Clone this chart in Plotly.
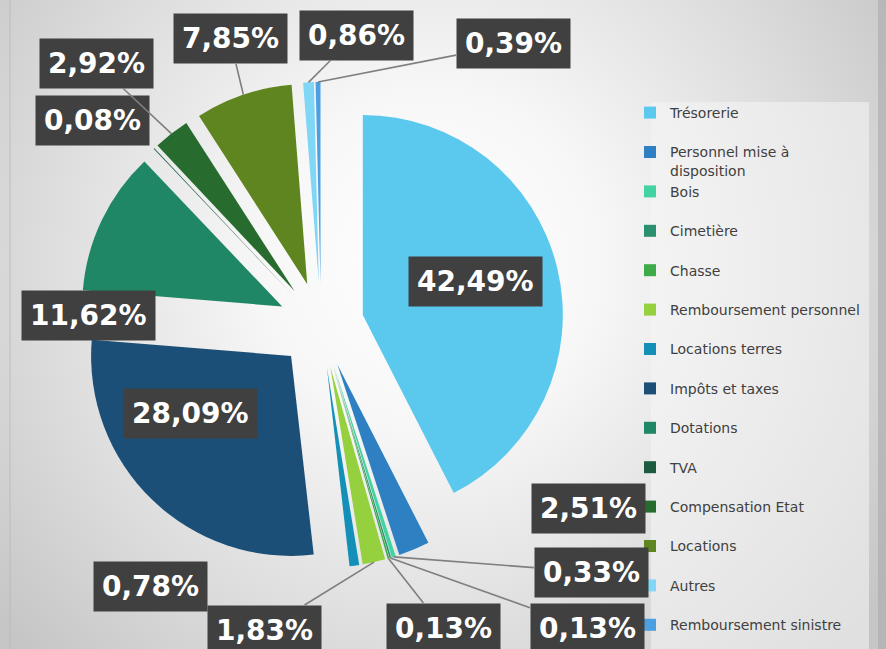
import base64
import math
import plotly.graph_objects as go

# ---------------- data ----------------
categories = ["Trésorerie", "Personnel mise à disposition", "Bois", "Cimetière", "Chasse",
              "Remboursement personnel", "Locations terres", "Impôts et taxes", "Dotations",
              "TVA", "Compensation Etat", "Locations", "Autres", "Remboursement sinistre"]
values = [42.49, 2.51, 0.33, 0.13, 0.13, 1.83, 0.78, 28.09, 11.62, 0.08, 2.92, 7.85, 0.86, 0.39]
value_labels = ["42,49%", "2,51%", "0,33%", "0,13%", "0,13%", "1,83%", "0,78%",
                "28,09%", "11,62%", "0,08%", "2,92%", "7,85%", "0,86%", "0,39%"]

# ---------------- style ----------------
colors = ["#5BC9EE", "#2E80C3", "#43D3A2", "#2A9070", "#3EAA4A", "#95D03F", "#1490B8",
          "#1B4F77", "#1F8766", "#1D5B40", "#286B2F", "#5E851F", "#7FD6F5", "#4C9FE0"]
legend_names = ["Trésorerie<br>\u00a0", "Personnel mise à<br>disposition", "Bois<br>\u00a0",
                "Cimetière<br>\u00a0", "Chasse<br>\u00a0", "Remboursement personnel<br>\u00a0",
                "Locations terres<br>\u00a0", "Impôts et taxes<br>\u00a0", "Dotations<br>\u00a0",
                "TVA<br>\u00a0", "Compensation Etat<br>\u00a0", "Locations<br>\u00a0",
                "Autres<br>\u00a0", "Remboursement sinistre"]
# label box centres (pixels) and whether a leader line is drawn
label_pos = [(475, 281), (588, 508), (591, 572), (587, 628), (443, 628), (264, 630),
             (150, 586), (190, 413), (88, 315), (92, 121), (96, 63), (230, 39),
             (356, 35), (513, 44)]
leader = [False, False, True, True, True, True, False, False, False, False, True, True,
          True, True]

W, H = 886, 649
PULL = 0.215
dom_x = [0.088, 0.6366]
dom_y = [1 - 568 / H, 1 - 82 / H]

# geometry as plotly computes it (margins are zero)
box_w = W * (dom_x[1] - dom_x[0])
box_h = H * (dom_y[1] - dom_y[0])
R = min(box_w, box_h) / 2 / (1 + PULL)
cx = W * (dom_x[0] + dom_x[1]) / 2
cy = H * (1 - dom_y[0]) - box_h / 2

total = sum(values)
cum = 0.0
anchors = []
for v in values:
    mid = (cum + v / 2) / total * 2 * math.pi
    cum += v
    dist = R * (1 + PULL)
    anchors.append((cx + dist * math.sin(mid), cy - dist * math.cos(mid)))

fig = go.Figure(go.Pie(
    labels=legend_names,
    values=values,
    marker=dict(colors=colors, line=dict(width=0)),
    pull=PULL,
    sort=False,
    direction="clockwise",
    rotation=0,
    textinfo="none",
    hoverinfo="label+percent",
    domain=dict(x=dom_x, y=dom_y),
))

LABEL_FONT = dict(family="DejaVu Sans", size=28, color="white", weight="bold")
PAD = 8
annotations = []
for i, txt in enumerate(value_labels):
    lx, ly = label_pos[i]
    if leader[i]:
        apx, apy = anchors[i]
        annotations.append(dict(
            x=apx / W, y=1 - apy / H, xref="paper", yref="paper",
            ax=lx - apx, ay=ly - apy, axref="pixel", ayref="pixel",
            xanchor="center", yanchor="middle",
            text=txt, showarrow=True, arrowhead=0, arrowwidth=1.6, arrowcolor="#7F7F7F",
            standoff=0, font=LABEL_FONT, bgcolor="#404040", borderpad=PAD))
    else:
        annotations.append(dict(
            x=lx / W, y=1 - ly / H, xref="paper", yref="paper", text=txt, showarrow=False,
            xanchor="center", yanchor="middle",
            font=LABEL_FONT, bgcolor="#404040", borderpad=PAD))

svg = (
    "<svg xmlns='http://www.w3.org/2000/svg' width='886' height='649'>"
    "<defs><radialGradient id='g' gradientUnits='userSpaceOnUse' cx='430' cy='260' r='560'>"
    "<stop offset='0' stop-color='#ffffff'/>"
    "<stop offset='0.3' stop-color='#f7f7f7'/>"
    "<stop offset='0.7' stop-color='#dcdcdc'/>"
    "<stop offset='1' stop-color='#c6c6c6'/>"
    "</radialGradient></defs>"
    "<rect width='886' height='649' fill='url(#g)'/></svg>"
)
bg_uri = "data:image/svg+xml;base64," + base64.b64encode(svg.encode()).decode()

fig.update_layout(
    width=W, height=H,
    margin=dict(l=0, r=0, t=0, b=0, autoexpand=False),
    paper_bgcolor="#e4e4e4",
    plot_bgcolor="rgba(0,0,0,0)",
    images=[dict(source=bg_uri, xref="paper", yref="paper", x=0, y=1, sizex=1, sizey=1,
                 sizing="stretch", xanchor="left", yanchor="top", layer="below")],
    shapes=[
        dict(type="rect", xref="paper", yref="paper", x0=651 / W, x1=869 / W,
             y0=1 - 649 / H, y1=1 - 102 / H, fillcolor="rgba(246,246,246,0.55)",
             line=dict(width=0), layer="below"),
        dict(type="line", xref="paper", yref="paper", x0=10 / W, x1=10 / W, y0=0, y1=1,
             line=dict(color="rgba(180,180,180,0.7)", width=1), layer="below"),
        dict(type="rect", xref="paper", yref="paper", x0=878 / W, x1=1, y0=0, y1=1,
             fillcolor="rgba(170,170,170,0.6)", line=dict(width=0), layer="below"),
    ],
    legend=dict(
        x=630 / W, y=1 - 97 / H, xanchor="left", yanchor="top",
        valign="top", bgcolor="rgba(0,0,0,0)",
        font=dict(family="DejaVu Sans", size=14, color="#404040"),
        itemclick=False,
    ),
    annotations=annotations,
)

fig.write_html("out.html", config={"displayModeBar": False},
               post_script="document.body.style.margin='0';document.body.style.overflow='hidden';")
